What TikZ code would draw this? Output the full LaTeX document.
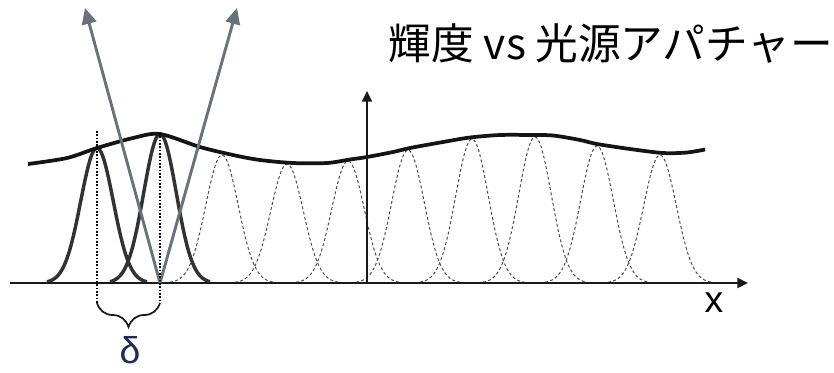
\documentclass[tikz,border=0pt]{standalone}
\usepackage{fontspec}
\setmainfont{Liberation Sans}
\newfontfamily\jpfont{Noto Sans CJK JP}
\usetikzlibrary{arrows.meta,decorations.pathreplacing}
\definecolor{raygray}{HTML}{67737C}
\definecolor{deltablue}{HTML}{1E2A5A}
\tikzset{
  axisline/.style={line width=1.5pt, draw=black!90, -{Triangle[length=8pt,width=7.5pt]}},
  ray/.style={line width=2.2pt, draw=raygray, -{Triangle[length=12pt,width=11pt]}},
  solidbell/.style={line width=2.6pt, draw=black!80},
  dashbell/.style={line width=0.75pt, draw=black!70, dash pattern=on 2.2pt off 1.8pt},
  envelope/.style={line width=2.8pt, draw=black!92},
  guide/.style={line width=1.3pt, draw=black, dash pattern=on 1.2pt off 1.3pt},
  bracestyle/.style={line width=1.3pt, draw=black!90, decorate, decoration={brace, amplitude=18pt}},
}
\begin{document}
\begin{tikzpicture}[x=0.75pt,y=-0.75pt]
\useasboundingbox (0,0) rectangle (834,372);
% dashed bells
\foreach \c/\p in {222/155,287/164,348/161,408/150,472/139,535/137,597/146,660/155}{
  \draw[dashbell] plot[domain=-52:52, samples=71, variable=\t]
    ({\c+\t},{283-(283-\p)*exp(-(\t/23)*(\t/23))});
}
% solid bells
\foreach \c/\p in {97/148,160/134}{
  \draw[solidbell] plot[domain=-50:50, samples=71, variable=\t]
    ({\c+\t},{283-(283-\p)*exp(-(\t/23)*(\t/23))});
}
% envelope
\draw[envelope] plot[smooth, tension=0.5] coordinates {
  (28,164) (67,158) (97,148) (133,138) (160,134) (200,147) (233,155) (260,160)
  (293,163) (327,163) (350,159.5) (367,157) (393,152) (410,148) (443,142)
  (470,137.5) (500,135) (530,135) (553,135.5) (580,140) (597,144) (630,149)
  (663,153) (687,152.5) (705,149.5)};
% axes
\coordinate (O) at (10,283);
\coordinate (Xend) at (748,283);
\coordinate (Y0) at (367,283);
\coordinate (Ytop) at (367,91);
\draw[axisline] (O) -- (Xend);
\draw[axisline] (Y0) -- (Ytop);
% rays
\coordinate (V) at (160,283);
\coordinate (TL) at (85,8);
\coordinate (TR) at (237,8);
\draw[ray] (V) -- (TL);
\draw[ray] (V) -- (TR);
% guides and brace
\coordinate (G1top) at (97,131);
\coordinate (G1bot) at (97,303);
\coordinate (G2top) at (160,133);
\coordinate (G2bot) at (160,303);
\draw[guide] (G1top) -- (G1bot);
\draw[guide] (G2top) -- (G2bot);
\draw[bracestyle] (G2bot) -- (G1bot);
% labels
\node[anchor=base, inner sep=0pt] (title) at (611,59) {\jpfont\fontsize{32pt}{36pt}\selectfont 輝度 vs 光源アパチャー};
\node[inner sep=0pt] (xlabel) at (714,303) {\fontsize{28pt}{32pt}\selectfont x};
\node[inner sep=0pt, text=deltablue] (delta) at (130,350) {\fontsize{28pt}{32pt}\selectfont δ};
\end{tikzpicture}
\end{document}
